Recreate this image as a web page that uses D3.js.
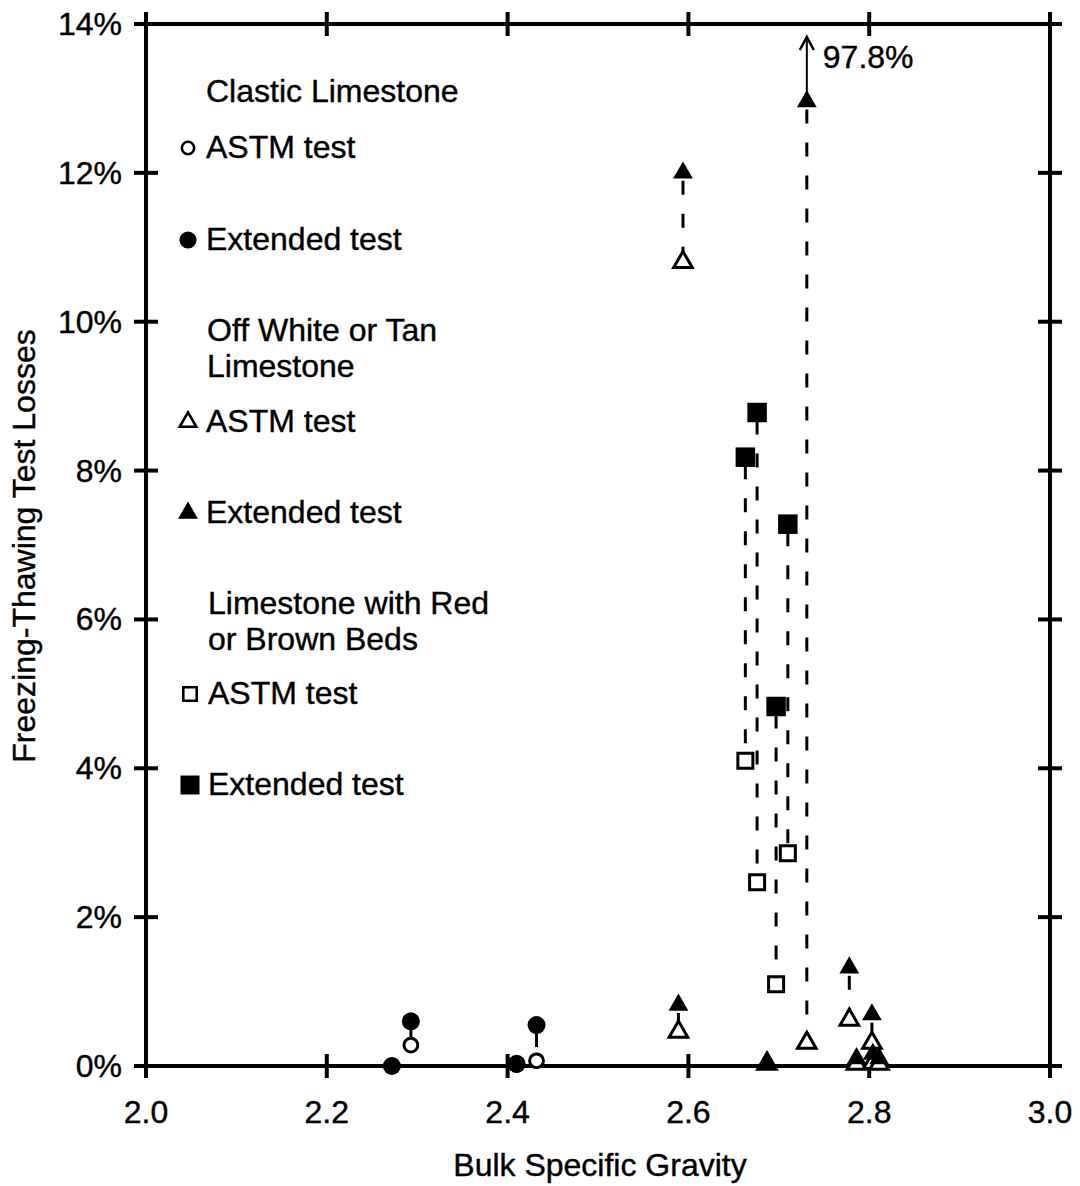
<!DOCTYPE html>
<html>
<head>
<meta charset="utf-8">
<script src="https://cdn.jsdelivr.net/npm/d3@7"></script>
<style>
  body { margin: 0; background: #fff; }
  text { font-family: "Liberation Sans", Arial, sans-serif; fill: #000; stroke: #000; stroke-width: 0.4; }
</style>
</head>
<body>
<svg id="chart" width="1080" height="1186"></svg>
<script>
// clastic limestone
const clasticGravity = [2.272, 2.293, 2.41, 2.432];
const clasticAstm = [0.0, 0.28, 0.02, 0.07];
const clasticExt = [0.0, 0.60, 0.03, 0.55];

// off white or tan limestone
const tanGravity = [2.594, 2.589, 2.687, 2.731, 2.778, 2.786, 2.803, 2.804, 2.811];
const tanAstm = [10.8, 0.46, 0.03, 0.31, 0.62, 0.03, 0.31, 0.04, 0.03];
const tanExt = [12.0, 0.82, 0.05, 97.8, 1.32, 0.10, 0.69, 0.16, 0.10];

// limestone with red or brown beds
const redGravity = [2.663, 2.676, 2.697, 2.710];
const redAstm = [4.10, 2.47, 1.10, 2.86];
const redExt = [8.18, 8.78, 4.83, 7.28];

const xTicks = [2.0, 2.2, 2.4, 2.6, 2.8, 3.0];
const yTicks = [0, 2, 4, 6, 8, 10, 12, 14];
const offScaleAt = 12.96; // where the off-scale point is drawn
const fs = 32;

const svg = d3.select("#chart");
const x = d3.scaleLinear().domain([2.0, 3.0]).range([146, 1050]);
const y = d3.scaleLinear().domain([0, 14]).range([1066, 24]);
const yc = (v) => y(Math.min(v, offScaleAt));

// frame
svg.append("rect")
    .attr("x", x(2.0)).attr("y", y(14))
    .attr("width", x(3.0) - x(2.0)).attr("height", y(0) - y(14))
    .attr("fill", "none").attr("stroke", "#000").attr("stroke-width", 4);

// ticks crossing all four sides
let tk = svg.append("g").attr("stroke", "#000").attr("stroke-width", 4);
xTicks.forEach((t) => {
    [y(0), y(14)].forEach((yy) => {
        tk.append("line").attr("x1", x(t)).attr("x2", x(t)).attr("y1", yy - 12).attr("y2", yy + 12);
    });
});
yTicks.forEach((t) => {
    [x(2.0), x(3.0)].forEach((xx) => {
        tk.append("line").attr("y1", y(t)).attr("y2", y(t)).attr("x1", xx - 12).attr("x2", xx + 12);
    });
});

// tick labels
svg.append("g").selectAll("text")
    .data(xTicks).enter().append("text")
    .attr("x", (d) => x(d)).attr("y", 1123)
    .attr("text-anchor", "middle").attr("font-size", fs)
    .text((d) => d.toFixed(1));

svg.append("g").selectAll("text")
    .data(yTicks).enter().append("text")
    .attr("x", 122).attr("y", (d) => y(d) + 11)
    .attr("text-anchor", "end").attr("font-size", fs)
    .text((d) => d + "%");

svg.append("text")
    .attr("x", 600).attr("y", 1176)
    .attr("text-anchor", "middle").attr("font-size", fs)
    .text("Bulk Specific Gravity");

svg.append("text")
    .attr("transform", "translate(35,546) rotate(-90)")
    .attr("text-anchor", "middle").attr("font-size", fs)
    .text("Freezing-Thawing Test Losses");

// dashed connectors between ASTM and extended results
function connectors(gx, a, e) {
    svg.append("g").selectAll("line")
        .data(gx.map((g, i) => ({ g: g, a: a[i], e: e[i] })))
        .enter().append("line")
        .filter((d) => yc(d.a) - yc(d.e) > 22)
        .attr("x1", (d) => x(d.g)).attr("x2", (d) => x(d.g))
        .attr("y1", (d) => yc(d.e) + 8).attr("y2", (d) => yc(d.a) - 8)
        .attr("stroke", "#000").attr("stroke-width", 3)
        .attr("stroke-dasharray", "14,19");
}
connectors(clasticGravity, clasticAstm, clasticExt);
connectors(tanGravity, tanAstm, tanExt);
connectors(redGravity, redAstm, redExt);

// markers
function marks(gx, vals, type, size, filled) {
    svg.append("g").selectAll("path")
        .data(gx.map((g, i) => [g, vals[i]]))
        .enter().append("path")
        .attr("transform", (d) => `translate(${x(d[0])},${yc(d[1])})`)
        .attr("d", d3.symbol().type(type).size(size))
        .attr("fill", filled ? "#000" : "#fff")
        .attr("stroke", "#000")
        .attr("stroke-width", filled ? 0 : 3);
}
marks(clasticGravity, clasticAstm, d3.symbolCircle, 150, false);
marks(clasticGravity, clasticExt, d3.symbolCircle, 254, true);
marks(tanGravity, tanAstm, d3.symbolTriangle, 150, false);
marks(tanGravity, tanExt, d3.symbolTriangle, 170, true);
marks(redGravity, redAstm, d3.symbolSquare, 225, false);
marks(redGravity, redExt, d3.symbolSquare, 380, true);

// off-scale arrow
tanExt.forEach((v, i) => {
    if (v <= 14) return;
    const ax = x(tanGravity[i]);
    svg.append("line").attr("x1", ax).attr("x2", ax)
        .attr("y1", yc(v) - 8).attr("y2", 37)
        .attr("stroke", "#000").attr("stroke-width", 2);
    svg.append("path")
        .attr("d", `M${ax - 7},${50} L${ax},${37} L${ax + 7},${50}`)
        .attr("fill", "none").attr("stroke", "#000").attr("stroke-width", 2.5);
    svg.append("text").attr("x", ax + 16).attr("y", 68)
        .attr("font-size", fs).text(v.toFixed(1) + "%");
});

// legend
const legendRows = [
    { label: ["Clastic Limestone"], y: 91, lx: 206 },
    { label: ["ASTM test"], y: 147, lx: 206, sym: d3.symbolCircle, size: 120, filled: false },
    { label: ["Extended test"], y: 239, lx: 206, sym: d3.symbolCircle, size: 230, filled: true },
    { label: ["Off White or Tan", "Limestone"], y: 330, lx: 207 },
    { label: ["ASTM test"], y: 421, lx: 206, sym: d3.symbolTriangle, size: 120, filled: false },
    { label: ["Extended test"], y: 512, lx: 206, sym: d3.symbolTriangle, size: 170, filled: true },
    { label: ["Limestone with Red", "or Brown Beds"], y: 603, lx: 208 },
    { label: ["ASTM test"], y: 693, lx: 208, sym: d3.symbolSquare, size: 180, filled: false },
    { label: ["Extended test"], y: 784, lx: 208, sym: d3.symbolSquare, size: 360, filled: true },
];
let lg = svg.append("g");
legendRows.forEach((r) => {
    r.label.forEach((t, j) => {
        lg.append("text").attr("x", r.lx).attr("y", r.y + 11 + j * 36)
            .attr("font-size", fs).text(t);
    });
    if (r.sym) {
        lg.append("path")
            .attr("transform", `translate(${r.lx - 18},${r.y + 1})`)
            .attr("d", d3.symbol().type(r.sym).size(r.size))
            .attr("fill", r.filled ? "#000" : "#fff")
            .attr("stroke", "#000").attr("stroke-width", r.filled ? 0 : 2.6);
    }
});
</script>
</body>
</html>
